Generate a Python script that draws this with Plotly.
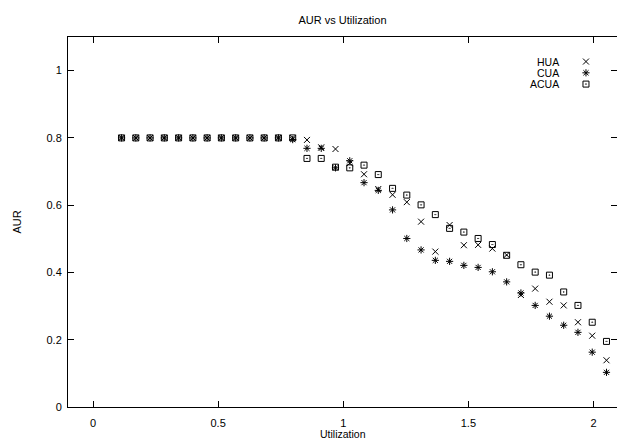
import plotly.graph_objects as go

utilization = [0.114, 0.171, 0.228, 0.285, 0.342, 0.399, 0.456, 0.513, 0.570, 0.627,
               0.684, 0.741, 0.798, 0.855, 0.912, 0.969, 1.026, 1.083, 1.140, 1.197,
               1.254, 1.311, 1.368, 1.425, 1.482, 1.539, 1.596, 1.653, 1.710, 1.767,
               1.824, 1.881, 1.938, 1.995, 2.052]

hua = [0.8, 0.8, 0.8, 0.8, 0.8, 0.8, 0.8, 0.8, 0.8, 0.8,
       0.8, 0.8, 0.8, 0.794, 0.772, 0.767, 0.725, 0.692, 0.648, 0.631,
       0.609, 0.551, 0.462, 0.541, 0.481, 0.482, 0.471, 0.452, 0.333, 0.352,
       0.313, 0.302, 0.252, 0.212, 0.139]

cua = [0.8, 0.8, 0.8, 0.8, 0.8, 0.8, 0.8, 0.8, 0.8, 0.8,
       0.8, 0.8, 0.795, 0.769, 0.769, 0.711, 0.732, 0.667, 0.644, 0.586,
       0.501, 0.467, 0.436, 0.433, 0.421, 0.415, 0.402, 0.372, 0.339, 0.302,
       0.270, 0.243, 0.222, 0.163, 0.103]

acua = [0.8, 0.8, 0.8, 0.8, 0.8, 0.8, 0.8, 0.8, 0.8, 0.8,
        0.8, 0.8, 0.8, 0.739, 0.739, 0.713, 0.711, 0.719, 0.691, 0.650,
        0.630, 0.601, 0.572, 0.531, 0.520, 0.501, 0.483, 0.451, 0.423, 0.401,
        0.392, 0.342, 0.302, 0.252, 0.195]

series_names = ["HUA", "CUA", "ACUA"]
x_ticks = [0, 0.5, 1, 1.5, 2]
x_tick_labels = ["0", "0.5", "1", "1.5", "2"]
y_ticks = [0, 0.2, 0.4, 0.6, 0.8, 1]
y_tick_labels = ["0", "0.2", "0.4", "0.6", "0.8", "1"]

FONT = dict(family="Liberation Sans, Arial, sans-serif", size=11, color="black")
KEY_FONT = dict(family="Liberation Sans, Arial, sans-serif", size=10.5, color="black")
XT_FONT = dict(family="Liberation Sans, Arial, sans-serif", size=10.5, color="black")
symbols = ["x-thin-open", "asterisk-open", "square-open-dot"]
sizes = [6, 6, 6]

fig = go.Figure()
for name, ys, sym, sz in zip(series_names, [hua, cua, acua], symbols, sizes):
    fig.add_trace(go.Scatter(
        x=utilization, y=ys, mode="markers", name=name, showlegend=False,
        marker=dict(symbol=sym, size=sz, color="black",
                    line=dict(color="black", width=1)),
        cliponaxis=False,
    ))

# custom key: text on the left, symbol on the right (gnuplot style)
KEY_X = 1.97
KEY_TEXT_X = 1.866
KEY_Y0 = 1.027
KEY_DY = 0.0335
for i, (name, sym, sz) in enumerate(zip(series_names, symbols, sizes)):
    ky = KEY_Y0 - i * KEY_DY
    fig.add_trace(go.Scatter(
        x=[KEY_X], y=[ky], mode="markers", showlegend=False, yaxis="y2",
        marker=dict(symbol=sym, size=sz, color="black",
                    line=dict(color="black", width=1)),
        cliponaxis=False, hoverinfo="skip",
    ))
    fig.add_annotation(x=KEY_TEXT_X, y=ky, xref="x", yref="y", text=name,
                       showarrow=False, xanchor="right", yanchor="middle",
                       font=KEY_FONT, borderpad=0)

# x-axis title, kept just inside the bottom edge
fig.add_annotation(x=0.5, y=-0.0915, xref="paper", yref="paper", text="Utilization",
                   showarrow=False, xanchor="center", yanchor="bottom",
                   font=XT_FONT, borderpad=0)

fig.update_layout(
    width=617, height=441,
    margin=dict(l=68, r=0, t=37, b=34),
    paper_bgcolor="white", plot_bgcolor="white",
    font=FONT,
    title=dict(text="AUR vs Utilization", x=0.5, xref="paper", xanchor="center",
               y=1, yref="container", yanchor="top", pad=dict(t=16),
               font=FONT),
    xaxis=dict(range=[-0.1, 2.094], tickvals=x_ticks, ticktext=x_tick_labels,
               ticks="inside", ticklen=6, tickwidth=1, tickcolor="black",
               showline=True, linecolor="black", linewidth=1, mirror="ticks",
               showgrid=False, zeroline=False, ticklabelstandoff=6,
               automargin=False),
    yaxis=dict(range=[0, 1.1], tickvals=y_ticks, ticktext=y_tick_labels,
               ticks="inside", ticklen=6, tickwidth=1, tickcolor="black",
               showline=True, linecolor="black", linewidth=1,
               showgrid=False, zeroline=False, ticklabelstandoff=3,
               title=dict(text="AUR", standoff=22, font=FONT),
               automargin=False),
    yaxis2=dict(range=[0, 1.1], tickvals=y_ticks, overlaying="y", side="right",
                anchor="x", ticks="inside", ticklen=6, tickwidth=1,
                tickcolor="black", showticklabels=False, showline=False,
                showgrid=False, zeroline=False),
)

fig.write_html("out.html")
